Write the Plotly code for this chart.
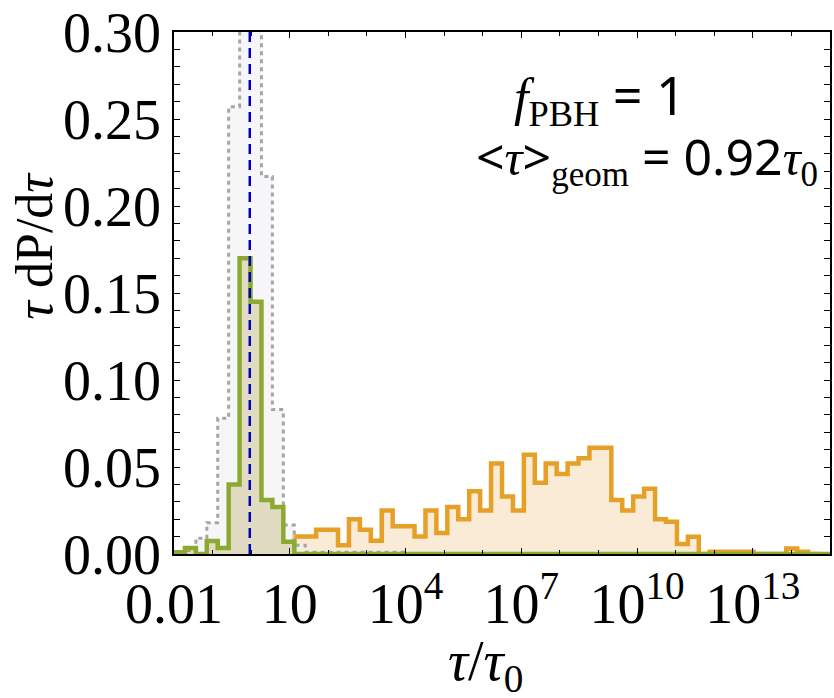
import numpy as np
import plotly.graph_objects as go

# ---- data ----
log_min, log_max, n_bins = -2.0, 15.0, 60          # histogram bins, uniform in log10(tau/tau0)

green_vals = [0.001, 0.0035, 0.0, 0.0075, 0.0035, 0.040, 0.170, 0.145, 0.031, 0.027, 0.007]
gray_vals = [0.001, 0.002, 0.009, 0.018, 0.078, 0.257, 0.34, 0.34, 0.217, 0.083, 0.0166, 0.005,
             0.001, 0.001, 0.001, 0.001, 0.001, 0.001, 0.001, 0.001, 0.001]
orange_start = 11
orange_vals = [0.010, 0.010, 0.014, 0.014, 0.005, 0.020, 0.014, 0.0076, 0.025, 0.016, 0.016,
               0.010, 0.025, 0.012, 0.027, 0.020, 0.036, 0.025, 0.052, 0.033, 0.025, 0.057,
               0.041, 0.052, 0.046, 0.052, 0.055, 0.061, 0.061, 0.031, 0.025, 0.033, 0.0375,
               0.020, 0.0185, 0.0057, 0.0099, 0.0, 0.0013, 0.0013, 0.0013, 0.0013, 0.0, 0.0,
               0.0, 0.0032, 0.0013, 0.0]
tau_geom = 0.92

x_major = [0.01, 10, 1e4, 1e7, 1e10, 1e13]
x_major_text = ["0.01", "10", "10<sup>4</sup>", "10<sup>7</sup>", "10<sup>10</sup>", "10<sup>13</sup>"]
y_major = [0.0, 0.05, 0.10, 0.15, 0.20, 0.25, 0.30]

edges_log = np.linspace(log_min, log_max, n_bins + 1)


def step_xy(start_idx, vals):
    edges = [10 ** edges_log[start_idx + i] for i in range(len(vals) + 1)]
    xs = [edges[0]] + edges + [edges[-1]]
    ys = [0.0] + list(vals) + [vals[-1], 0.0]
    return xs, ys


green_full = green_vals + [0.0] * (n_bins - len(green_vals))

fig = go.Figure()

ox, oy = step_xy(orange_start, orange_vals)
fig.add_trace(go.Scatter(x=ox, y=oy, mode="lines", line_shape="hv", fill="tozeroy",
                         fillcolor="rgb(250,235,215)",
                         line=dict(color="rgb(230,160,40)", width=4.5), showlegend=False))

gx, gy = step_xy(0, gray_vals)
fig.add_trace(go.Scatter(x=gx, y=gy, mode="lines", line_shape="hv", fill="tozeroy",
                         fillcolor="rgba(240,240,245,0.6)",
                         line=dict(color="rgb(165,165,165)", width=3, dash="4px,4px"),
                         showlegend=False))

vx, vy = step_xy(0, green_full)
fig.add_trace(go.Scatter(x=vx, y=vy, mode="lines", line_shape="hv", fill="tozeroy",
                         fillcolor="rgba(170,150,50,0.28)",
                         line=dict(color="rgb(140,170,50)", width=4.5), showlegend=False))

fig.add_trace(go.Scatter(x=[tau_geom, tau_geom], y=[0, 0.30], mode="lines",
                         line=dict(color="rgb(0,0,190)", width=2.5, dash="10px,6px"),
                         showlegend=False))

serif = "Liberation Serif"
tickfont = dict(family=serif, size=56, color="black")

fig.update_xaxes(type="log", range=[log_min, log_max], showline=True, linecolor="black", linewidth=1.5,
                 mirror="ticks", ticks="inside", ticklen=6, tickwidth=1, tickcolor="black",
                 tickvals=x_major, ticktext=x_major_text, tickfont=tickfont,
                 ticklabeloverflow="allow",
                 showgrid=False, zeroline=False,
                 minor=dict(tickvals=[10 ** k for k in range(-2, 16)], ticks="inside",
                            ticklen=4, tickcolor="black", showgrid=False))
fig.update_yaxes(range=[0, 0.30], showline=True, linecolor="black", linewidth=1.5,
                 mirror="ticks", ticks="inside", ticklen=6, tickwidth=1, tickcolor="black",
                 tickvals=y_major, tickformat=".2f", tickfont=tickfont,
                 ticklabeloverflow="allow",
                 showgrid=False, zeroline=False,
                 minor=dict(dtick=0.01, ticks="inside", ticklen=6, tickcolor="black",
                            showgrid=False))

sf = "font-family:'Liberation Serif'"
fig.add_annotation(xref="paper", yref="paper", x=0.475, y=-0.212, xanchor="center", yanchor="middle",
                   text="<i>τ</i>/<i>τ</i><sub>0</sub>",
                   showarrow=False, font=dict(family=serif, size=56, color="black"))
fig.add_annotation(xref="paper", yref="paper", x=-0.214, y=0.59, xanchor="center", yanchor="middle",
                   textangle=-90,
                   text="<i>τ</i> dP/d<i>τ</i>",
                   showarrow=False, font=dict(family=serif, size=52, color="black"))
fig.add_annotation(xref="paper", yref="paper", x=0.65, y=0.876, xanchor="center", yanchor="middle",
                   text=f"<span style=\"{sf}\"><i>f</i><sub>PBH</sub></span> = 1",
                   showarrow=False, font=dict(family="Noto Sans", size=52, color="black"))
fig.add_annotation(xref="paper", yref="paper", x=0.985, y=0.758, xanchor="right", yanchor="middle",
                   text=f"&lt;<span style=\"{sf}\"><i>τ</i></span>&gt;<span style=\"{sf}\"><sub>geom</sub></span> = 0.92<span style=\"{sf}\"><i>τ</i><sub>0</sub></span>",
                   showarrow=False, font=dict(family="Noto Sans", size=50, color="black"))

fig.update_layout(width=834, height=698, margin=dict(l=174, r=2, t=29, b=144),
                  paper_bgcolor="white", plot_bgcolor="white", showlegend=False)

fig.write_html("out.html")
